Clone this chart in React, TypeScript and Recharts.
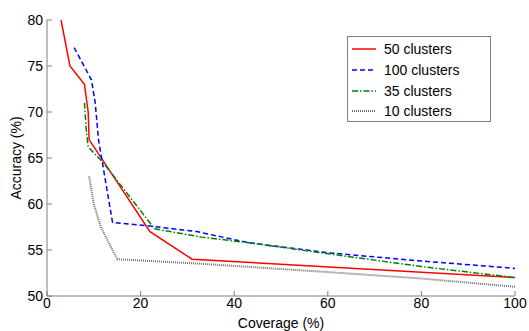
import React from 'react';
import { LineChart, Line, XAxis, YAxis } from 'recharts';

const clusters50 = [
  { x: 3, y: 80 }, { x: 4.9, y: 75 }, { x: 8, y: 73 }, { x: 8.8, y: 70 }, { x: 9, y: 67 },
  { x: 22, y: 57 }, { x: 31, y: 54 }, { x: 100, y: 52 },
];
const clusters100 = [
  { x: 5.8, y: 77 }, { x: 9.5, y: 73.5 }, { x: 10.3, y: 71 }, { x: 11, y: 67 }, { x: 14, y: 58 },
  { x: 22, y: 57.6 }, { x: 32, y: 57 }, { x: 43, y: 55.8 }, { x: 60, y: 54.7 }, { x: 80, y: 53.8 }, { x: 100, y: 53 },
];
const clusters35 = [
  { x: 8, y: 71 }, { x: 8.4, y: 68 }, { x: 8.8, y: 66.2 }, { x: 12, y: 64.5 }, { x: 23, y: 57.3 },
  { x: 33, y: 56.4 }, { x: 43, y: 55.8 }, { x: 60, y: 54.6 }, { x: 80, y: 53.2 }, { x: 100, y: 52 },
];
const clusters10 = [
  { x: 9, y: 63 }, { x: 10, y: 60 }, { x: 11.5, y: 57.5 }, { x: 15, y: 54 }, { x: 33, y: 53.5 },
  { x: 60, y: 52.6 }, { x: 80, y: 51.9 }, { x: 100, y: 51 },
];

const xTicks = [0, 20, 40, 60, 80, 100];
const yTicks = [50, 55, 60, 65, 70, 75, 80];

const series = [
  { name: '50 clusters', data: clusters50, color: '#ff0000', dash: undefined, width: 1.5 },
  { name: '100 clusters', data: clusters100, color: '#0000ff', dash: '5 3', width: 1.5 },
  { name: '35 clusters', data: clusters35, color: '#008000', dash: '6 2 1.5 2', width: 1.5 },
  { name: '10 clusters', data: clusters10, color: '#707070', dash: '1 1', width: 2 },
];

const font = 'Liberation Sans, Arial, sans-serif';
const axisGray = '#808080';

// matlab-style legend box, drawn over the plot
const LegendBox = () => (
  <div
    style={{
      position: 'absolute',
      left: 347,
      top: 36,
      width: 144,
      height: 86,
      boxSizing: 'border-box',
      border: `1px solid ${axisGray}`,
      background: '#fff',
      paddingTop: 2,
      fontFamily: font,
      fontSize: 14,
      color: '#000',
    }}
  >
    {series.map((s) => (
      <div key={s.name} style={{ display: 'flex', alignItems: 'center', height: 20.7 }}>
        <svg width={32} height={10} style={{ marginLeft: 4, flex: 'none' }}>
          <line x1={0} y1={5} x2={24} y2={5} stroke={s.color} strokeWidth={s.width} strokeDasharray={s.dash} />
        </svg>
        <span>{s.name}</span>
      </div>
    ))}
  </div>
);

export default function App() {
  return (
    <div style={{ position: 'absolute', left: 0, top: 0, width: 529, height: 331, background: '#fff' }}>
      <LineChart width={529} height={331} margin={{ top: 20, right: 14, bottom: 0, left: 0 }}>
        <XAxis
          xAxisId="b"
          type="number"
          dataKey="x"
          domain={[0, 100]}
          ticks={xTicks}
          height={35}
          stroke={axisGray}
          tickSize={-5}
          tickMargin={7}
          tick={{ fill: '#000', fontSize: 14, fontFamily: font }}
          allowDataOverflow
          label={{ value: 'Coverage (%)', position: 'insideBottom', offset: 3, fill: '#000', fontSize: 14, fontFamily: font }}
        />
        <XAxis
          xAxisId="t"
          orientation="top"
          type="number"
          dataKey="x"
          domain={[0, 100]}
          ticks={xTicks}
          height={0}
          stroke={axisGray}
          tickSize={-5}
          tick={false}
        />
        <YAxis
          yAxisId="l"
          type="number"
          domain={[50, 80]}
          ticks={yTicks}
          width={47}
          stroke={axisGray}
          tickSize={-5}
          tickMargin={9}
          tick={{ fill: '#000', fontSize: 14, fontFamily: font }}
          allowDataOverflow
          label={{ value: 'Accuracy (%)', angle: -90, position: 'insideLeft', offset: 16, fill: '#000', fontSize: 14, fontFamily: font, style: { textAnchor: 'middle' } }}
        />
        <YAxis
          yAxisId="r"
          orientation="right"
          type="number"
          domain={[50, 80]}
          ticks={yTicks}
          width={0}
          stroke={axisGray}
          tickSize={-5}
          tick={false}
        />
        {series.map((s) => (
          <Line
            key={s.name}
            xAxisId="b"
            yAxisId="l"
            data={s.data}
            dataKey="y"
            name={s.name}
            type="linear"
            stroke={s.color}
            strokeWidth={s.width}
            strokeDasharray={s.dash}
            dot={false}
            activeDot={false}
            isAnimationActive={false}
          />
        ))}
      </LineChart>
      <LegendBox />
    </div>
  );
}
